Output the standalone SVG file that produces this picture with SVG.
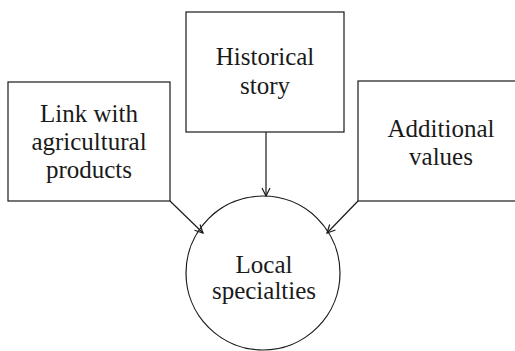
<svg xmlns="http://www.w3.org/2000/svg" width="515" height="351" viewBox="0 0 515 351">
  <style>
    .box { fill: #ffffff; stroke: #1a1a1a; stroke-width: 1.2; }
    .label { font-family: 'Liberation Serif', 'Times New Roman', serif; font-size: 25px; fill: #1a1a1a; text-anchor: middle; }
    .edge { fill: none; stroke: #1a1a1a; stroke-width: 1.2; marker-end: url(#arrow); }
  </style>
  <defs>
    <marker id="arrow" viewBox="0 0 10 10" refX="9" refY="5" markerWidth="10" markerHeight="10" markerUnits="userSpaceOnUse" orient="auto">
      <path d="M1,1 L9,5 L1,9" fill="none" stroke="#1a1a1a" stroke-width="1.2"/>
    </marker>
  </defs>
  <rect width="515" height="351" fill="#ffffff"/>

  <g id="link-agri">
    <rect class="box" x="8" y="82" width="162" height="119"/>
    <text class="label" x="89" y="122">Link with</text>
    <text class="label" x="89" y="150">agricultural</text>
    <text class="label" x="89" y="178">products</text>
  </g>

  <g id="historical-story">
    <rect class="box" x="186" y="12" width="158" height="120"/>
    <text class="label" x="265" y="65">Historical</text>
    <text class="label" x="265" y="94">story</text>
  </g>

  <g id="additional-values">
    <rect class="box" x="358" y="81" width="170" height="120"/>
    <text class="label" x="441" y="137">Additional</text>
    <text class="label" x="441" y="165">values</text>
  </g>

  <g id="local-specialties">
    <circle class="box" cx="263" cy="273" r="77"/>
    <text class="label" x="264" y="273">Local</text>
    <text class="label" x="264" y="299">specialties</text>
  </g>

  <g id="connectors">
    <line class="edge" x1="170" y1="201" x2="203" y2="233"/>
    <line class="edge" x1="266" y1="132" x2="266" y2="196"/>
    <line class="edge" x1="358" y1="201" x2="327" y2="233"/>
  </g>
</svg>
